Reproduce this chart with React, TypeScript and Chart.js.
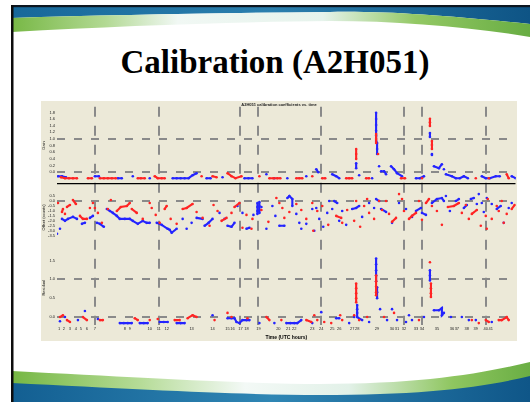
import React, { useEffect, useRef } from 'react';
import { Chart, registerables } from 'chart.js';

Chart.register(...registerables);

// ---------- data (time index, value) ----------
const xMin = 0;
const xMax = 460;

const topRed: number[][] = [
  [4,-0.15],[8,-0.18],[12,-0.18],[16,-0.18],[20,-0.18],[31,-0.18],[35,-0.18],
  [43,-0.18],[47,-0.18],[51,-0.18],[55,-0.18],[59,-0.18],[81,-0.18],[84,-0.18],[88,-0.18],
  [98,-0.12],[101,-0.18],[105,-0.18],[108,-0.18],[145,-0.12],[156,-0.12],[160,-0.15],
  [171,-0.03],[175,-0.12],[179,-0.18],[185,-0.12],[203,-0.12],[213,-0.18],[217,-0.18],
  [221,-0.18],[224,-0.18],[240,-0.18],[243,-0.18],[246,-0.18],[256,-0.12],[266,-0.18],
  [269,-0.18],[290,-0.18],[293,-0.18],[296,-0.18],[300,0.70],[300,0.55],[300,0.40],
  [310,-0.18],[313,-0.18],[320,1.15],[320,1.0],[320,0.88],[322,0.55],[345,-0.18],[349,-0.18],
  [366,-0.18],[374,1.61],[374,1.50],[374,1.39],[376,0.94],[376,0.82],[376,0.70],
  [420,-0.18],[433,-0.18],[451,-0.06],[453,-0.18],
];
const topBlue: number[][] = [
  [1,-0.12],[5,-0.12],[9,-0.15],[38,-0.12],[42,-0.12],[61,-0.18],[65,-0.18],[76,-0.12],
  [93,-0.18],[116,-0.18],[120,-0.18],[124,-0.18],[128,-0.18],[132,-0.18],[136,-0.09],[140,-0.03],
  [150,-0.18],[154,-0.18],[166,-0.15],[188,-0.18],[192,-0.18],[196,-0.18],[210,-0.06],
  [218,-0.18],[231,-0.18],[250,-0.12],[260,0.09],[262,0.0],[276,-0.06],[280,-0.12],[283,-0.18],
  [300,0.27],[300,0.12],[303,-0.09],[316,-0.18],
  [320,1.79],[320,1.6],[320,1.42],[320,1.25],[320,1.1],[320,0.94],[321,0.88],[321,0.7],[321,0.55],
  [323,0.18],[325,0.03],[328,0.03],[330,-0.06],[335,0.18],[338,0.09],[341,-0.03],[346,-0.12],
  [360,-0.18],[364,-0.18],[368,-0.12],[374,1.18],[374,1.06],[376,0.55],[376,0.52],
  [378,0.18],[383,0.12],[386,0.24],[388,0.09],[390,-0.06],[396,-0.12],[400,-0.18],[404,-0.18],
  [408,-0.12],[412,-0.18],[426,-0.12],[430,-0.18],[434,-0.18],[440,-0.12],[444,-0.12],
  [456,-0.12],[460,-0.18],
];
const midRed: number[][] = [
  [1,-0.2],[5,-1.1],[6,-0.8],[8,-1.3],[10,-0.6],[13,-0.4],[16,0.1],[19,-0.3],[23,-1.5],[26,-1.8],
  [30,-1.8],[33,-0.7],[36,-0.2],[38,-0.7],[41,-1.2],[45,-2.2],[51,-0.8],[54,0.1],[60,-1.0],[64,-0.6],
  [70,-0.5],[73,-0.2],[75,-0.8],[80,-1.2],[86,-1.8],[93,-0.2],[95,-0.7],[99,-1.4],[103,-2.2],[108,-0.8],
  [110,-0.5],[114,-1.8],[120,-2.3],[126,-0.8],[130,-0.7],[136,-0.3],[140,-1.1],[146,-1.7],[153,-2.5],
  [157,-0.4],[161,-1.0],[165,-2.0],[170,-1.7],[175,-1.2],[178,-0.6],[183,-0.2],[186,-2.7],[190,-1.4],
  [195,-2.8],[196,-1.8],[205,-0.9],[212,-2.1],[220,0.3],[223,-0.2],[226,-0.7],[228,-1.7],[233,-1.1],
  [240,-0.3],[245,-0.9],[250,-1.8],[256,-0.2],[257,-3.0],[261,-1.0],[266,-0.5],[272,-2.4],[280,-1.5],
  [285,-1.7],[286,-2.2],[291,-0.9],[298,-2.0],[300,0.0],[304,-2.6],[308,-0.5],[311,0.2],[313,-1.2],
  [318,-1.8],[323,0.0],[326,-0.9],[330,0.0],[333,-1.3],[336,-2.1],[340,-1.7],[343,0.7],[346,0.2],
  [348,-1.0],[353,-1.8],[356,-1.5],[360,-1.2],[363,0.0],[366,-1.9],[370,-0.2],[373,0.2],[376,-0.5],
  [381,-1.0],[386,-2.4],[392,-0.6],[398,-0.5],[403,-0.2],[406,-1.2],[410,-0.4],[413,-1.8],[416,-1.3],
  [421,-0.9],[425,-2.5],[430,-1.5],[431,-2.8],[432,0.2],[436,-1.8],[441,-0.5],[443,-1.0],[446,0.0],
  [448,-2.2],[451,-1.3],[456,-0.8],[459,-0.4],
];
const midBlue: number[][] = [
  [0,-3.3],[3,-2.8],[5,-1.8],[8,-2.0],[11,-1.8],[16,-1.6],[20,-1.8],[25,-2.3],[28,-2.2],[33,-1.7],
  [36,-1.5],[40,-2.2],[43,-2.3],[47,-2.6],[50,-0.8],[53,-1.0],[56,-1.2],[60,-1.5],[63,-1.8],[68,-1.8],
  [73,-1.8],[76,-2.0],[81,-2.3],[86,-2.0],[90,-2.2],[93,-2.2],[100,-2.2],[105,-2.4],[111,-2.8],
  [113,-2.9],[115,-3.2],[120,-2.8],[126,-1.8],[130,-2.8],[135,-2.2],[140,-1.7],[146,-1.8],[148,-2.5],
  [152,-2.2],[156,-1.8],[163,-1.2],[168,-1.8],[171,-2.5],[175,-2.6],[178,-2.2],[181,-0.5],[186,-1.2],
  [190,-2.8],[193,-2.7],[197,-1.4],[201,-0.2],[201,-0.6],[201,-1.0],[201,-1.3],[203,-0.1],[203,-0.5],
  [203,-0.9],[203,-1.2],[205,-0.6],[210,-2.8],[216,-0.5],[219,-1.5],[223,-2.5],[228,-2.5],[231,0.3],
  [233,0.5],[236,0.2],[236,-0.5],[240,-1.3],[243,-2.2],[245,-2.8],[250,-2.3],[256,-0.8],[258,-3.0],
  [260,-0.7],[263,-1.8],[267,-2.6],[271,-1.2],[273,0.0],[276,-0.8],[278,0.0],[281,-0.2],[283,-2.0],
  [286,-1.0],[290,-2.4],[296,-0.8],[300,-0.7],[303,-0.5],[306,-1.6],[313,-0.2],[318,-0.7],[320,0.2],
  [323,0.0],[325,-0.8],[330,-1.1],[336,-2.2],[343,-0.2],[350,-0.8],[356,-1.6],[360,-1.0],[365,-0.7],
  [366,-1.2],[370,-1.4],[376,-0.2],[381,0.2],[386,0.3],[388,0.0],[390,0.5],[394,-1.0],[400,0.0],
  [403,0.2],[408,-0.7],[411,-0.4],[415,0.2],[418,0.3],[421,-0.3],[423,0.7],[426,-0.2],[428,-1.1],
  [431,0.3],[436,-0.3],[441,-0.8],[445,-0.5],[448,-2.2],[453,-0.7],[456,-0.2],
];
const botRed: number[][] = [
  [3,0],[6,0.05],[10,-0.08],[13,-0.13],[26,0],[30,-0.08],[43,-0.08],[46,-0.08],[78,-0.03],[81,-0.08],
  [93,-0.08],[101,-0.05],[118,-0.08],[123,-0.08],[131,-0.03],[136,0.05],[140,0],[158,-0.08],[171,0.11],
  [175,0],[191,-0.03],[210,0],[213,-0.08],[225,-0.08],[250,-0.08],[255,-0.13],[258,0.05],[261,-0.08],
  [268,-0.13],[275,-0.16],[284,0.05],[286,-0.08],[298,0.05],[300,0.89],[300,0.76],[300,0.63],[300,0.5],
  [300,0.39],[303,-0.08],[311,0],[320,1.1],[320,0.95],[320,0.8],[320,0.66],[320,0.58],[328,0],[338,0.11],
  [363,-0.08],[374,1.45],[375,0.89],[375,0.76],[375,0.63],[375,0.53],[416,-0.08],[423,-0.16],[430,-0.08],
  [433,-0.13],[443,-0.08],[446,-0.08],[451,0],[453,-0.08],
];
const botBlue: number[][] = [
  [3,-0.11],[8,0],[21,-0.08],[28,0.16],[41,-0.05],[63,-0.16],[67,-0.16],[71,-0.16],[75,-0.16],[83,-0.16],
  [87,-0.16],[91,-0.16],[103,-0.13],[107,-0.13],[111,-0.13],[120,-0.16],[124,-0.16],[128,-0.16],[156,0.05],
  [171,-0.03],[175,-0.03],[178,-0.03],[180,-0.13],[183,-0.16],[186,-0.08],[190,-0.08],[193,-0.08],
  [203,-0.16],[218,-0.16],[230,-0.16],[234,-0.16],[238,-0.16],[241,-0.16],[245,-0.08],[256,-0.16],
  [265,0.13],[280,-0.03],[283,-0.03],[293,-0.16],[298,0],[301,0.32],[301,0.21],[301,0.11],[301,0],
  [306,-0.08],[313,-0.13],[320,1.55],[320,1.4],[320,1.24],[320,1.1],[320,0.95],[321,0.79],[321,0.66],
  [321,0.5],[324,0.21],[331,-0.08],[336,0.21],[341,-0.08],[350,-0.13],[353,0.05],[356,-0.08],[368,0],
  [374,1.24],[374,1.1],[374,0.97],[378,0.18],[383,0.18],[386,0.24],[386,0.05],[388,0.11],[395,0],
  [406,0],[413,-0.08],[420,-0.08],[436,-0.13],
];

// ---------- ticks / labels ----------
const xTickValues = [2,7,13,19,24,30,38,68,73,93,102,110,135,156,171,176,184,190,202,222,232,238,256,265,276,283,296,301,321,336,341,348,360,366,381,396,401,411,420,430,435];
const xTickLabels = ['1','2','3','4','5','6','7','8','9','10','11','12','13','14','15','16','17','18','19','20','21','22','23','24','25','26','27','28','29','30','31','32','33','34','35','36','37','38','39','40','41'];
const xGridValues = [38,102,184,202,265,348,366,430];

const topTicks = [0,0.2,0.4,0.6,0.8,1.0,1.2,1.4,1.6,1.8];
const topGrid = [0,1];
const midTicks = [0.5,0,-0.5,-1,-1.5,-2,-2.5,-3,-3.5];
const midGrid = [0];
const botTicks = [0,0.5,1,1.5];
const botGrid = [0,1];
const dividerValue = -0.36;

const chartTitle = 'A2H051 calibration coefficients vs. time';
const xTitle = 'Time (UTC hours)';
const topTitle = 'Gain';
const midTitle = 'Offset (counts)';
const botTitle = 'Residual';

// ---------- styles ----------
const RED = '#ff2424';
const BLUE = '#2424ff';
const GRID = '#8a8a8a';
const NONE = 'rgba(0,0,0,0)';

const near = (v: any, list: number[]) => typeof v === 'number' && list.some((t) => Math.abs(t - v) < 1e-6);
const toPts = (a: number[][]) => a.map(([x, y]) => ({ x, y }));

const link = (col: string) => (ctx: any) => {
  const dx = Math.abs(ctx.p1.x - ctx.p0.x);
  const dy = Math.abs(ctx.p1.y - ctx.p0.y);
  return dx < 0.5 || (dx <= 6 && dy <= 4) ? col : NONE;
};

const series = (data: number[][], col: string, axis: string) => ({
  data: toPts(data),
  yAxisID: axis,
  showLine: true,
  borderColor: col,
  backgroundColor: col,
  borderWidth: 2.1,
  pointRadius: 1.3,
  pointBorderWidth: 0,
  pointHoverRadius: 0,
  segment: { borderColor: link(col) },
});

const yAxis = (min: number, max: number, ticks: number[], grid: number[], weight: number, stackWeight: number, title: string) => ({
  type: 'linear',
  position: 'left',
  stack: 'panels',
  stackWeight,
  weight,
  min,
  max,
  afterBuildTicks: (s: any) => { s.ticks = ticks.map((v) => ({ value: v })); },
  afterFit: (s: any) => { s.width = 16; },
  ticks: { font: { size: 4 }, color: '#222', padding: 2, autoSkip: false, callback: (v: any) => Number(v).toFixed(1) },
  grid: { color: (c: any) => (near(c.tick && c.tick.value, grid) ? GRID : NONE), lineWidth: 2, drawTicks: false },
  border: { display: false, dash: [8, 9] },
  title: { display: true, text: title, font: { size: 4 }, color: '#111', padding: 0 },
});

function ChartPanel() {
  const ref = useRef<HTMLCanvasElement>(null);
  useEffect(() => {
    if (!ref.current) return;
    Chart.defaults.font.family = "'Liberation Sans', Arial, sans-serif";
    const chart = new Chart(ref.current, {
      type: 'scatter',
      data: {
        datasets: [
          series(topRed, RED, 'yTop'),
          series(midRed, RED, 'yMid'),
          series(botRed, RED, 'yBot'),
          series(topBlue, BLUE, 'yTop'),
          series(midBlue, BLUE, 'yMid'),
          series(botBlue, BLUE, 'yBot'),
          {
            data: [{ x: xMin, y: dividerValue }, { x: xMax, y: dividerValue }],
            yAxisID: 'yTop', showLine: true, borderColor: '#000', borderWidth: 2.5, pointRadius: 0,
          },
        ] as any,
      },
      options: {
        animation: false,
        responsive: false,
        maintainAspectRatio: false,
        devicePixelRatio: 1,
        events: [],
        layout: { padding: 0 },
        plugins: {
          legend: { display: false },
          tooltip: { enabled: false },
          title: { display: true, text: chartTitle, font: { size: 4, weight: 'bold' }, color: '#222', padding: { top: 1, bottom: 0 } },
        },
        scales: {
          x: {
            type: 'linear',
            min: xMin,
            max: xMax,
            afterBuildTicks: (s: any) => { s.ticks = xTickValues.map((v) => ({ value: v })); },
            afterFit: (s: any) => { s.height = 16; },
            ticks: { font: { size: 4 }, color: '#222', autoSkip: false, maxRotation: 0, minRotation: 0, padding: 1, callback: (_v: any, i: number) => xTickLabels[i] },
            grid: { color: (c: any) => (near(c.tick && c.tick.value, xGridValues) ? GRID : NONE), lineWidth: 2, drawTicks: false },
            border: { display: false, dash: [10, 9] },
            title: { display: true, text: xTitle, font: { size: 5, weight: 'bold' }, color: '#000', padding: { top: 2, bottom: 0 } },
          },
          yTop: yAxis(-0.36, 1.97, topTicks, topGrid, 3, 78, topTitle),
          yMid: yAxis(-5.0, 1.7, midTicks, midGrid, 2, 67, midTitle),
          yBot: yAxis(-0.21, 1.76, botTicks, botGrid, 1, 75, botTitle),
        } as any,
      },
    });
    return () => chart.destroy();
  }, []);
  return <canvas ref={ref} width={476} height={240} style={{ display: 'block', width: 476, height: 240, background: '#ECE9D8' }} />;
}

export default function App() {
  return (
    <div style={{ position: 'absolute', left: 0, top: 0, width: 530, height: 402, background: '#fff', overflow: 'hidden' }}>
      <svg width={530} height={402} style={{ position: 'absolute', left: 0, top: 0 }}>
        <defs>
          <linearGradient id="bTop" x1="0" x2="1" y1="0" y2="0">
            <stop offset="0" stopColor="#17689a" />
            <stop offset="0.5" stopColor="#2b7fae" />
            <stop offset="1" stopColor="#0e5485" />
          </linearGradient>
          <linearGradient id="gTop" x1="0" x2="1" y1="0" y2="0">
            <stop offset="0" stopColor="#78b846" />
            <stop offset="0.18" stopColor="#b2d993" />
            <stop offset="0.32" stopColor="#f1f8f4" />
            <stop offset="0.6" stopColor="#e6f3ec" />
            <stop offset="0.78" stopColor="#93c864" />
            <stop offset="1" stopColor="#68ad43" />
          </linearGradient>
          <linearGradient id="gBot" x1="0" x2="1" y1="0" y2="0">
            <stop offset="0" stopColor="#76b744" />
            <stop offset="0.25" stopColor="#b6dc98" />
            <stop offset="0.45" stopColor="#f3f9f6" />
            <stop offset="0.65" stopColor="#e2f1e8" />
            <stop offset="0.85" stopColor="#8fc660" />
            <stop offset="1" stopColor="#6aae44" />
          </linearGradient>
          <linearGradient id="bBot" x1="0" x2="1" y1="0" y2="0">
            <stop offset="0" stopColor="#135f92" />
            <stop offset="0.5" stopColor="#2f86b4" />
            <stop offset="1" stopColor="#0f5688" />
          </linearGradient>
        </defs>
        <path d="M12,7 L530,7 L530,24 C450,16 390,11 330,12 C220,13 110,15 12,18 Z" fill="url(#bTop)" />
        <path d="M12,18 C110,15 220,13 330,12 C390,11 450,16 530,24 L530,37 C470,27 400,21 330,21 C230,22 120,26 12,32 Z" fill="url(#gTop)" />
        <path d="M12,371 C150,378 250,384 320,384 C420,384 480,374 530,362 L530,402 L12,402 Z" fill="url(#gBot)" />
        <path d="M12,383 C150,390 250,395 320,395 C420,395 480,388 530,376 L530,402 L12,402 Z" fill="url(#bBot)" />
        <rect x={11} y={5} width={519} height={2.2} fill="#0c1620" />
        <rect x={11} y={5} width={2.5} height={397} fill="#0d0d0d" />
      </svg>
      <div style={{ position: 'absolute', left: 12, top: 46, width: 526, textAlign: 'center', fontFamily: "'Liberation Serif', 'Times New Roman', serif", fontWeight: 'bold', fontSize: 33, lineHeight: '33px', color: '#000' }}>
        Calibration (A2H051)
      </div>
      <div style={{ position: 'absolute', left: 41, top: 101, width: 476, height: 240 }}>
        <ChartPanel />
      </div>
    </div>
  );
}
